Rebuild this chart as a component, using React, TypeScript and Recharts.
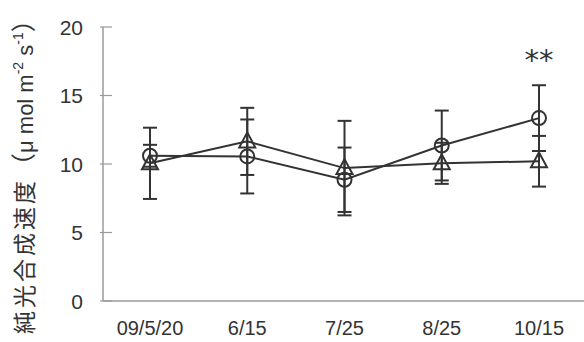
import React from 'react';
import { LineChart, Line, XAxis, YAxis, ErrorBar, LabelList } from 'recharts';

// Sampling dates
const dates = ['09/5/20', '6/15', '7/25', '8/25', '10/15'];
// Series drawn with open circles: mean and error
const circleMean = [10.6, 10.55, 8.85, 11.35, 13.35];
const circleErr = [0.8, 2.7, 2.35, 2.55, 2.4];
// Series drawn with open triangles: mean and error
const triMean = [10.05, 11.65, 9.7, 10.05, 10.2];
const triErr = [2.6, 2.45, 3.45, 1.5, 1.85];
// Significance marks per date
const marks = ['', '', '', '', '**'];
const yTicks = [0, 5, 10, 15, 20];

const data = dates.map((d, i) => ({
  date: d,
  circle: circleMean[i],
  circleErr: circleErr[i],
  tri: triMean[i],
  triErr: triErr[i],
  mark: marks[i],
}));

const INK = '#333';
const AXIS = '#9a9a9a';
const FONT = '"Liberation Sans", Arial, "Noto Sans CJK JP", sans-serif';
const CJK = '"Noto Sans CJK JP", sans-serif';

const TICK_MARGIN = 20;

const YTick = (props: any) => {
  const { x, y, payload } = props;
  const ax = x + TICK_MARGIN;
  return (
    <g>
      <line x1={ax - 3} x2={ax + 9} y1={y} y2={y} stroke={AXIS} strokeWidth={1.2} />
      <text x={x} y={y} dy="0.36em" textAnchor="end" fill={INK} fontSize={21} fontFamily={FONT}>
        {payload.value}
      </text>
    </g>
  );
};

const XTick = (props: any) => {
  const { x, y, payload } = props;
  return (
    <text x={x} y={y} dy="0.72em" textAnchor="middle" fill={INK} fontSize={20} fontFamily={FONT}>
      {payload.value}
    </text>
  );
};

const CircleDot = (props: any) => {
  const { cx, cy } = props;
  if (cx == null || cy == null) return null;
  return <circle cx={cx} cy={cy} r={7} fill="none" stroke={INK} strokeWidth={2} />;
};

const TriangleDot = (props: any) => {
  const { cx, cy } = props;
  if (cx == null || cy == null) return null;
  const pts = `${cx},${cy - 9} ${cx - 8},${cy + 6} ${cx + 8},${cy + 6}`;
  return <polygon points={pts} fill="none" stroke={INK} strokeWidth={2} />;
};

const MarkLabel = (props: any) => {
  const { x, y, value } = props;
  if (!value) return null;
  return (
    <text x={x} y={y - 48} textAnchor="middle" fill={INK} fontSize={29} fontFamily='"DejaVu Sans", sans-serif'>
      {value}
    </text>
  );
};

const YLabel = () => {
  const cx = 33;
  const cy = 334;
  return (
    <text
      transform={`rotate(-90, ${cx}, ${cy})`}
      x={cx}
      y={cy}
      textAnchor="start"
      fill={INK}
      fontSize={22}
      fontFamily={FONT}
    >
      <tspan fontSize={23} letterSpacing={3} fontFamily={CJK}>純光合成速度</tspan>
      <tspan fontSize={25} fontFamily={CJK}>（</tspan>
      <tspan>μ mol m</tspan>
      <tspan fontSize={14} dy={-10}>-2</tspan>
      <tspan dy={10}> s</tspan>
      <tspan fontSize={14} dy={-10}>-1</tspan>
      <tspan dy={10} fontSize={25} fontFamily={CJK}>）</tspan>
    </text>
  );
};

export default function App() {
  return (
    <div style={{ position: 'absolute', left: 0, top: 0, background: '#fff' }}>
      <LineChart width={584} height={342} data={data} margin={{ top: 27, right: 0, bottom: 0, left: 0 }}>
        <XAxis
          dataKey="date"
          scale="point"
          padding={{ left: 47, right: 45 }}
          axisLine={{ stroke: AXIS, strokeWidth: 1.5 }}
          tickLine={false}
          tickSize={0}
          tickMargin={20}
          tick={<XTick />}
          height={41}
          interval={0}
        />
        <YAxis
          domain={[0, 20]}
          ticks={yTicks}
          width={103}
          axisLine={{ stroke: AXIS, strokeWidth: 1.5 }}
          tickLine={false}
          tickSize={0}
          tickMargin={TICK_MARGIN}
          tick={<YTick />}
          label={{ content: <YLabel /> }}
        />
        <Line
          dataKey="circle"
          stroke={INK}
          strokeWidth={2}
          dot={<CircleDot />}
          activeDot={false}
          isAnimationActive={false}
        >
          <ErrorBar dataKey="circleErr" width={7} strokeWidth={2} stroke={INK} direction="y" />
          <LabelList dataKey="mark" content={<MarkLabel />} />
        </Line>
        <Line
          dataKey="tri"
          stroke={INK}
          strokeWidth={2}
          dot={<TriangleDot />}
          activeDot={false}
          isAnimationActive={false}
        >
          <ErrorBar dataKey="triErr" width={7} strokeWidth={2} stroke={INK} direction="y" />
        </Line>
      </LineChart>
    </div>
  );
}
